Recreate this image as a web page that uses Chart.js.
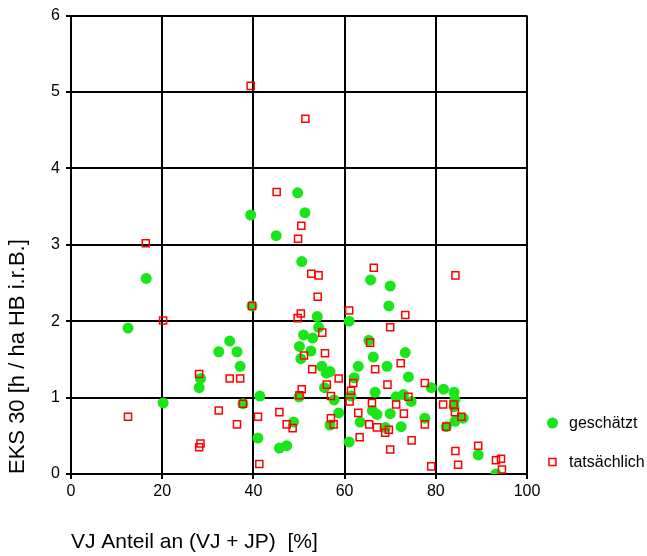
<!DOCTYPE html>
<html><head><meta charset="utf-8">
<script src="https://cdn.jsdelivr.net/npm/chart.js@4/dist/chart.umd.min.js"></script>
<style>html,body{margin:0;padding:0;background:#fff}#wrap{width:647px;height:556px;position:relative}</style>
</head><body><div id="wrap"><canvas id="c" width="647" height="556"></canvas></div>
<script>
const seriesNames = ['geschätzt', 'tatsächlich'];
const xTitle = 'VJ Anteil an (VJ + JP)  [%]';
const yTitle = 'EKS 30 [h / ha HB i.r.B.]';
const xTicks = [0, 20, 40, 60, 80, 100];
const yTicks = [0, 1, 2, 3, 4, 5, 6];

const geschaetztX = [12.5,16.5,20.2,28.1,28.4,32.4,34.8,36.4,37.1,37.7,39.4,39.7,41.4,41.0,45.0,45.7,47.3,48.8,49.7,50.0,50.1,50.4,50.6,51.0,51.3,52.6,53.0,54.0,54.3,55.0,55.6,56.0,56.8,57.7,56.8,58.7,61.0,61.4,61.0,62.1,63.0,63.4,65.3,65.7,66.3,66.7,66.1,67.1,68.9,69.3,69.7,70.0,70.0,71.3,72.9,72.4,73.3,74.0,74.6,77.6,79.0,81.7,82.3,84.0,84.2,84.0,84.2,86.0,89.3,93.2];
const geschaetztY = [1.91,2.56,0.93,1.13,1.25,1.60,1.74,1.60,1.41,0.92,3.39,2.20,1.02,0.47,3.12,0.34,0.37,0.68,3.68,1.01,1.67,1.51,2.78,1.82,3.42,1.61,1.78,2.06,1.92,1.41,1.13,1.32,1.34,0.97,0.64,0.80,2.00,1.02,0.42,1.26,1.41,0.68,1.75,2.54,1.53,1.07,0.83,0.78,0.61,1.41,2.20,2.46,0.79,1.01,1.04,0.62,1.59,1.27,0.95,0.73,1.13,1.11,0.62,1.07,0.97,0.88,0.69,0.73,0.25,0.00];

const tatsaechlichX = [12.5,16.4,20.2,28.1,28.4,28.1,32.4,34.8,37.1,36.4,37.7,39.4,39.7,41.0,41.3,45.1,45.7,47.3,48.6,49.8,50.5,51.4,50.4,49.7,50.6,50.1,51.1,52.7,54.3,54.1,55.1,55.7,52.9,56.1,57.0,58.7,57.0,57.6,61.0,61.9,61.4,61.1,63.0,63.3,65.4,65.6,66.4,66.7,66.0,67.1,68.9,69.7,69.4,70.0,70.0,71.3,72.3,73.3,73.0,74.0,74.7,77.6,77.6,79.0,81.6,82.3,83.9,84.2,84.3,85.6,84.3,84.9,89.3,93.2,94.3,94.5];
const tatsaechlichY = [0.75,3.02,2.01,1.31,0.40,0.35,0.83,1.25,1.25,0.65,0.92,5.08,2.20,0.75,0.13,3.69,0.81,0.65,0.60,3.08,3.25,4.65,2.10,2.04,1.11,1.03,1.55,2.62,2.60,2.32,1.85,1.58,1.37,1.17,1.02,1.25,0.73,0.65,2.14,1.19,1.09,0.95,0.80,0.48,0.65,1.72,2.70,1.37,0.93,0.61,0.54,0.58,1.17,1.92,0.32,0.91,1.45,2.08,0.79,1.01,0.44,1.19,0.65,0.10,0.91,0.62,0.91,0.81,2.60,0.75,0.30,0.12,0.37,0.18,0.20,0.06];

const GREEN = '#19e619';
const RED = '#ff0000';
const FONT = "'Liberation Sans', Arial, sans-serif";

function pts(xs, ys) { return xs.map((x, i) => ({x: x, y: ys[i]})); }

const legendPlugin = {
  id: 'sideLegend',
  afterDraw(chart) {
    const ctx = chart.ctx;
    ctx.save();
    const items = [
      {label: seriesNames[0], y: 424, draw: (x, y) => { ctx.beginPath(); ctx.arc(x, y, 5.5, 0, Math.PI * 2); ctx.fillStyle = GREEN; ctx.fill(); }},
      {label: seriesNames[1], y: 463, draw: (x, y) => { ctx.lineWidth = 1.5; ctx.strokeStyle = RED; ctx.strokeRect(x - 3.5, y - 3.5, 7, 7); }}
    ];
    ctx.font = '16px ' + FONT;
    ctx.textBaseline = 'middle';
    ctx.textAlign = 'left';
    items.forEach(it => { it.draw(552.5, it.y - 1); ctx.fillStyle = '#000'; ctx.fillText(it.label, 569, it.y); });
    ctx.restore();
  }
};

new Chart(document.getElementById('c'), {
  type: 'scatter',
  data: {
    datasets: [
      {label: seriesNames[0], data: pts(geschaetztX, geschaetztY), order: 2,
       pointStyle: 'circle', pointRadius: 5.5, pointBackgroundColor: GREEN, pointBorderColor: GREEN, pointBorderWidth: 0},
      {label: seriesNames[1], data: pts(tatsaechlichX, tatsaechlichY), order: 1,
       pointStyle: 'rect', pointRadius: 5, pointBackgroundColor: 'rgba(255,255,255,0)', pointBorderColor: RED, pointBorderWidth: 1.5}
    ]
  },
  options: {
    responsive: false,
    animation: false,
    devicePixelRatio: 1,
    layout: {padding: {top: 15, right: 120, bottom: 0, left: 0}},
    plugins: {legend: {display: false}, tooltip: {enabled: false}},
    scales: {
      x: {
        type: 'linear', min: 0, max: 100,
        afterBuildTicks: s => { s.ticks = xTicks.map(v => ({value: v})); },
        afterFit: s => { s.height = 82; },
        grid: {color: '#000', lineWidth: 2, tickLength: 5, drawTicks: true},
        border: {color: '#000', width: 2},
        ticks: {color: '#000', font: {family: FONT, size: 16}, padding: 3, maxRotation: 0},
        title: {display: true, text: xTitle, align: 'start', color: '#000', font: {family: FONT, size: 21}, padding: {top: 0, bottom: 1}}
      },
      y: {
        type: 'linear', min: 0, max: 6,
        afterBuildTicks: s => { s.ticks = yTicks.map(v => ({value: v})); },
        afterFit: s => { s.width = 71; },
        grid: {color: '#000', lineWidth: 2, tickLength: 5, drawTicks: true},
        border: {color: '#000', width: 2},
        ticks: {color: '#000', font: {family: FONT, size: 16}, padding: 6},
        title: {display: true, text: yTitle, align: 'start', color: '#000', font: {family: FONT, size: 22}, padding: {top: 5, bottom: 0}}
      }
    }
  },
  plugins: [legendPlugin]
});
</script>
</body></html>
